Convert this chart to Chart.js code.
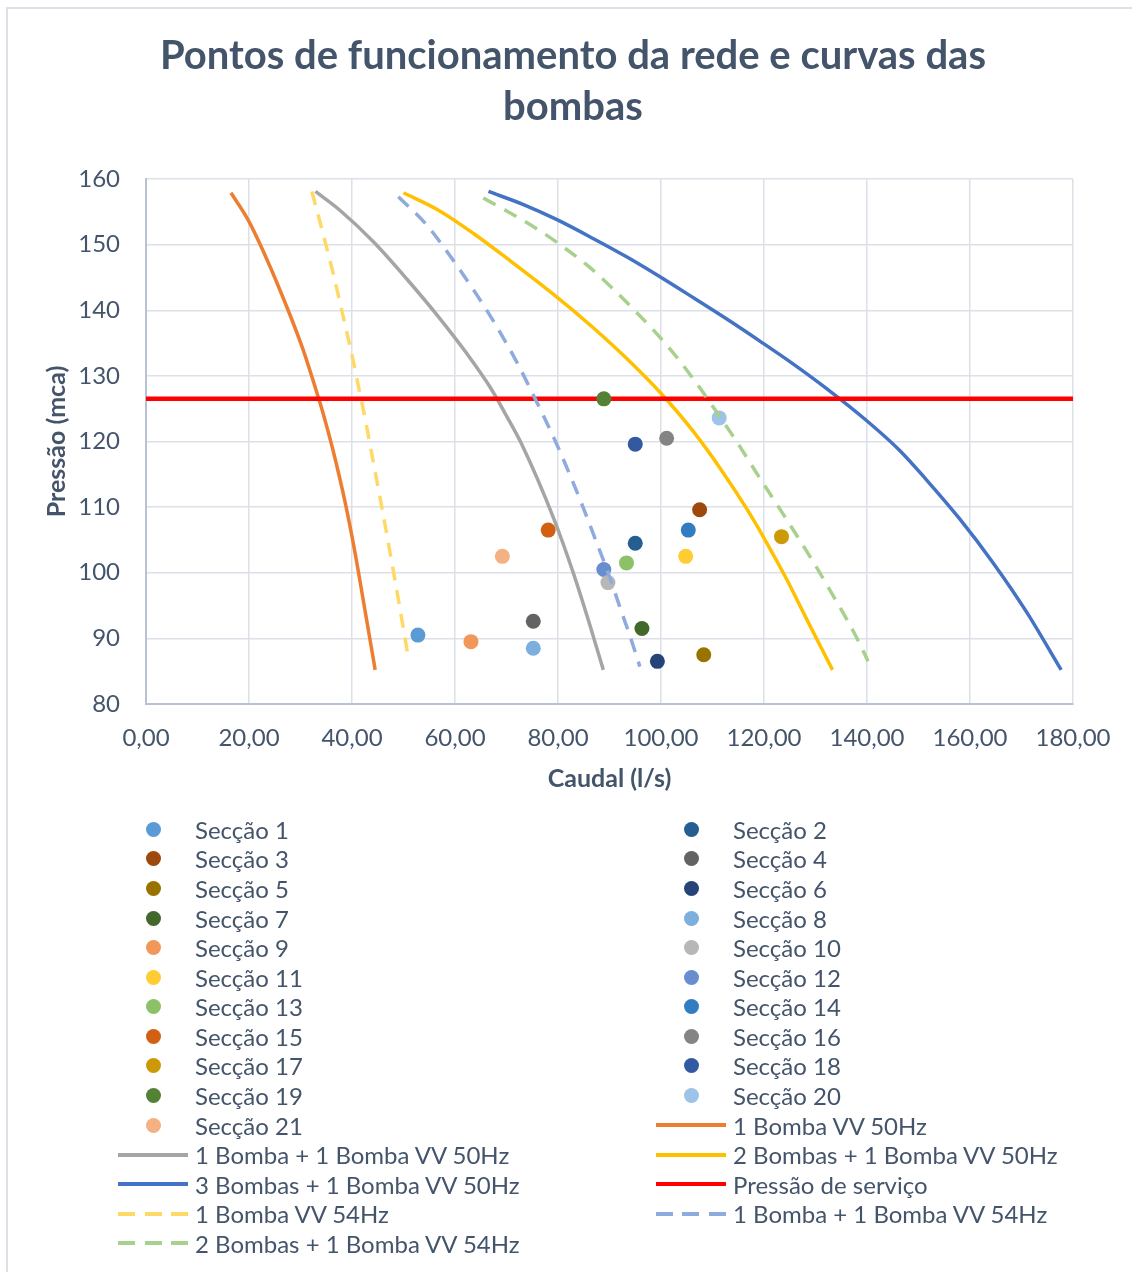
<!DOCTYPE html>
<html lang="pt">
<head>
<meta charset="utf-8">
<title>Pontos de funcionamento da rede e curvas das bombas</title>
<script src="https://cdn.jsdelivr.net/npm/chart.js@4.4.1/dist/chart.umd.min.js"></script>
<style>
  html, body { margin: 0; padding: 0; background: #ffffff; width: 1132px; height: 1272px; overflow: hidden; }
  #frame { position: absolute; left: 6px; top: 7px; width: 1200px; height: 1400px; border: 2px solid #DDE1E7; box-sizing: border-box; }
  #wrap { position: absolute; left: 0; top: 0; width: 1132px; height: 800px; }
  #legend { position: absolute; left: 0; top: 0; width: 1132px; height: 1272px; pointer-events: none;
            font-family: Lato, "Noto Sans", sans-serif; font-size: 24px; color: #44546A; }
  .item { position: absolute; height: 30px; display: flex; align-items: center; white-space: nowrap; }
  .mark { width: 70px; height: 30px; position: relative; flex: none; }
  .mark .dot { position: absolute; left: 27.5px; top: 7.5px; width: 15px; height: 15px; border-radius: 50%; }
  .mark .ln { position: absolute; left: 0; top: 13px; width: 70px; height: 4px; }
  .item .txt { margin-left: 7px; }
</style>
</head>
<body>
<div id="frame"></div>
<div id="wrap"><canvas id="chart"></canvas></div>
<div id="legend"></div>
<script>
// Pontos de funcionamento das secções (caudal em l/s, pressão em mca)
const sectionLabels = ['Secção 1', 'Secção 2', 'Secção 3', 'Secção 4', 'Secção 5', 'Secção 6', 'Secção 7',
  'Secção 8', 'Secção 9', 'Secção 10', 'Secção 11', 'Secção 12', 'Secção 13', 'Secção 14',
  'Secção 15', 'Secção 16', 'Secção 17', 'Secção 18', 'Secção 19', 'Secção 20', 'Secção 21'];
const sectionCaudal = [52.8, 95.0, 107.5, 75.2, 108.3, 99.3, 96.3, 75.2, 63.1, 89.7, 104.8,
  88.9, 93.3, 105.3, 78.1, 101.1, 123.4, 95.0, 88.9, 111.3, 69.2];
const sectionPressao = [90.5, 104.5, 109.6, 92.6, 87.5, 86.5, 91.5, 88.5, 89.5, 98.5, 102.5,
  100.5, 101.5, 106.5, 106.5, 120.5, 105.5, 119.6, 126.5, 123.6, 102.5];
const sectionColors = ['#5B9BD5', '#255E91', '#9E480E', '#636363', '#997300', '#264478', '#43682B',
  '#7CAFDD', '#F1975A', '#B7B7B7', '#FFCD33', '#698ED0', '#8CC168', '#327DC2',
  '#D26012', '#848484', '#CC9A06', '#335AA1', '#548235', '#9DC3E6', '#F4B183'];

// Curvas das bombas a 50 Hz
const bomba1VV50Q = [16.5, 19.8, 23.5, 27.6, 30.5, 32.8, 34.2, 36.3, 38.7, 40.6, 42.3, 44.5];
const bomba1VV50H = [157.9, 153.8, 147.7, 140.0, 134.0, 128.4, 124.8, 118.7, 110.6, 103.0, 95.3, 85.2];

const bomba1mais1VV50Q = [32.9, 37.7, 44.2, 50.6, 57.1, 62.3, 66.8, 70.0, 73.0, 79.1, 83.0, 86.2, 88.8];
const bomba1mais1VV50H = [158.1, 155.2, 150.4, 144.8, 138.7, 133.4, 128.3, 123.9, 119.5, 108.4, 99.9, 92.0, 85.2];

const bombas2mais1VV50Q = [50.0, 57.1, 63.6, 70.1, 79.8, 86.9, 93.4, 99.8, 106.3, 111.5, 116.6, 120.5, 124.4, 128.3, 133.3];
const bombas2mais1VV50H = [157.9, 155.1, 151.7, 147.9, 142.0, 137.3, 132.6, 127.5, 121.5, 115.9, 109.8, 104.6, 99.0, 92.9, 85.2];

const bombas3mais1VV50Q = [66.5, 73.3, 79.8, 86.9, 93.4, 99.8, 106.3, 112.7, 119.2, 125.7, 132.1, 139.9, 146.4, 151.5, 158.0, 164.5, 171.0, 177.7];
const bombas3mais1VV50H = [158.1, 156.1, 153.8, 150.9, 148.1, 145.1, 141.9, 138.7, 135.3, 131.8, 128.1, 123.2, 118.6, 114.2, 108.2, 101.5, 94.0, 85.2];

// Pressão de serviço
const pressaoServicoQ = [0, 180];
const pressaoServicoH = [126.5, 126.5];

// Curvas com a bomba de velocidade variável a 54 Hz
const bomba1VV54Q = [32.2, 34.2, 36.5, 38.3, 40.2, 41.8, 42.6, 43.7, 46.0, 48.0, 49.8, 50.9];
const bomba1VV54H = [158.1, 152.2, 145.1, 139.0, 132.4, 126.3, 123.3, 118.7, 109.1, 100.4, 92.3, 87.2];

const bomba1mais1VV54Q = [49.0, 54.5, 58.4, 63.6, 67.5, 72.0, 75.2, 79.8, 84.3, 87.5, 90.1, 92.0, 94.0, 95.9];
const bomba1mais1VV54H = [157.3, 153.0, 149.0, 143.1, 138.3, 132.1, 127.1, 119.5, 111.1, 104.6, 99.2, 94.8, 90.3, 85.7];

const bombas2mais1VV54Q = [65.5, 70.1, 76.5, 80.4, 85.6, 90.1, 94.6, 99.2, 103.1, 107.6, 110.8, 114.6, 119.2, 124.4, 129.6, 134.1, 138.0, 140.2];
const bombas2mais1VV54H = [157.1, 155.1, 152.1, 150.0, 146.9, 143.7, 140.2, 136.4, 132.8, 128.1, 124.5, 120.1, 114.4, 108.1, 101.6, 95.6, 90.1, 86.5];

// Eixos
const xTicks = [0, 20, 40, 60, 80, 100, 120, 140, 160, 180];
const yTicks = [80, 90, 100, 110, 120, 130, 140, 150, 160];

const TEXT = '#44546A';
const FONT = 'Lato';

const pairs = (q, h) => q.map((v, i) => ({ x: v, y: h[i] }));

function curve(label, q, h, color, dashed, order, width) {
  return {
    label, data: pairs(q, h), showLine: true, fill: false,
    borderColor: color, backgroundColor: color,
    borderWidth: width || 3.5, borderDash: dashed ? [14, 10] : [],
    borderCapStyle: 'butt', borderJoinStyle: 'round',
    cubicInterpolationMode: 'monotone',
    pointRadius: 0, pointHoverRadius: 0, order, _dashed: dashed, _line: true
  };
}

const datasets = sectionLabels.map((label, i) => ({
  label, data: [{ x: sectionCaudal[i], y: sectionPressao[i] }],
  showLine: false, backgroundColor: sectionColors[i], borderColor: sectionColors[i],
  pointRadius: 7.5, pointBorderWidth: 0, pointHoverRadius: 7.5, order: 1
})).concat([
  curve('1 Bomba VV 50Hz', bomba1VV50Q, bomba1VV50H, '#ED7D31', false, 3),
  curve('1 Bomba + 1 Bomba VV 50Hz', bomba1mais1VV50Q, bomba1mais1VV50H, '#A5A5A5', false, 3),
  curve('2 Bombas + 1 Bomba VV 50Hz', bombas2mais1VV50Q, bombas2mais1VV50H, '#FFC000', false, 3),
  curve('3 Bombas + 1 Bomba VV 50Hz', bombas3mais1VV50Q, bombas3mais1VV50H, '#4472C4', false, 3),
  curve('Pressão de serviço', pressaoServicoQ, pressaoServicoH, '#FF0000', false, 2, 4.5),
  curve('1 Bomba VV 54Hz', bomba1VV54Q, bomba1VV54H, '#FFD966', true, 0),
  curve('1 Bomba + 1 Bomba VV 54Hz', bomba1mais1VV54Q, bomba1mais1VV54H, '#8FAADC', true, 0),
  curve('2 Bombas + 1 Bomba VV 54Hz', bombas2mais1VV54Q, bombas2mais1VV54H, '#A9D18E', true, 0)
]);

function buildLegend(chart) {
  const box = document.getElementById('legend');
  chart.data.datasets.forEach((ds, i) => {
    const row = Math.floor(i / 2), col = i % 2;
    const item = document.createElement('div');
    item.className = 'item';
    item.style.left = (col === 0 ? 118 : 656) + 'px';
    item.style.top = (829.3 + row * 29.57 - 15) + 'px';
    const mark = document.createElement('span');
    mark.className = 'mark';
    const sym = document.createElement('span');
    if (ds._line) {
      sym.className = 'ln';
      sym.style.background = ds._dashed
        ? 'repeating-linear-gradient(to right, ' + ds.borderColor + ' 0 17px, transparent 17px 26.5px)'
        : ds.borderColor;
    } else {
      sym.className = 'dot';
      sym.style.background = ds.backgroundColor;
    }
    mark.appendChild(sym);
    const txt = document.createElement('span');
    txt.className = 'txt';
    txt.textContent = ds.label;
    item.appendChild(mark);
    item.appendChild(txt);
    box.appendChild(item);
  });
}

function draw() {
  const chart = new Chart(document.getElementById('chart'), {
    type: 'scatter',
    data: { datasets },
    options: {
      responsive: true, maintainAspectRatio: false, animation: false,
      layout: { padding: { left: 14, right: 0, top: 0, bottom: 0 } },
      plugins: {
        legend: { display: false },
        tooltip: { enabled: false },
        title: {
          display: true,
          text: ['Pontos de funcionamento da rede e curvas das', 'bombas'],
          color: TEXT,
          font: { family: FONT, size: 40, weight: 'bold', lineHeight: 1.275 },
          padding: { top: 31, bottom: 46 }
        }
      },
      scales: {
        x: {
          type: 'linear', min: 0, max: 180,
          afterBuildTicks: s => { s.ticks = xTicks.map(v => ({ value: v })); },
          afterFit: s => { s.height = 96; },
          grid: { color: '#DCE0E8', lineWidth: 1.5, drawTicks: false },
          border: { color: '#B8C2D2', width: 2 },
          ticks: {
            padding: 20, color: TEXT, font: { family: FONT, size: 24 },
            maxRotation: 0,
            callback: v => Number(v).toFixed(2).replace('.', ',')
          },
          title: {
            display: true, text: 'Caudal (l/s)', color: TEXT,
            font: { family: FONT, size: 25, weight: 'bold' },
            padding: { top: 0, bottom: 6 }
          }
        },
        y: {
          type: 'linear', min: 80, max: 160,
          afterBuildTicks: s => { s.ticks = yTicks.map(v => ({ value: v })); },
          afterFit: s => { s.width = 132; },
          grid: { color: '#DCE0E8', lineWidth: 1.5, drawTicks: false },
          border: { color: '#B8C2D2', width: 2 },
          ticks: { padding: 26, color: TEXT, font: { family: FONT, size: 24 } },
          title: {
            display: true, text: 'Pressão (mca)', color: TEXT,
            font: { family: FONT, size: 25, weight: 'bold' },
            padding: { top: 28, bottom: 0 }
          }
        },
        yRight: {
          type: 'linear', position: 'right', display: true,
          grid: { display: false, drawTicks: false }, border: { display: false },
          ticks: { display: false },
          afterFit: s => { s.width = 59; }
        }
      }
    }
  });
  buildLegend(chart);
}

Promise.all([
  document.fonts.load('bold 40px Lato'),
  document.fonts.load('24px Lato'),
  document.fonts.load('bold 25px Lato')
]).then(draw, draw);
</script>
</body>
</html>
